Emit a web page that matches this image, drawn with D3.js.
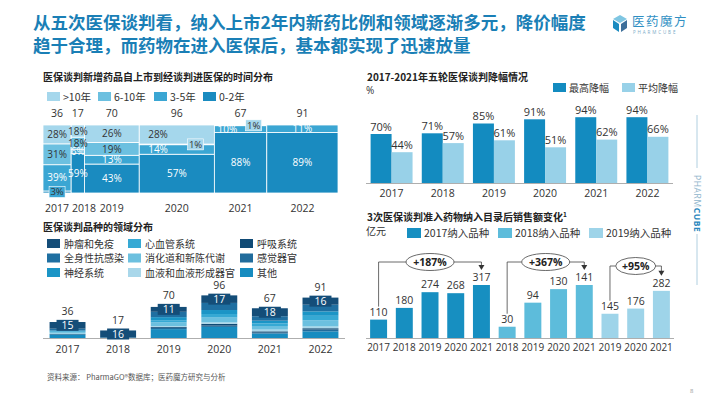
<!DOCTYPE html>
<html>
<head>
<meta charset="utf-8">
<script src="https://cdn.jsdelivr.net/npm/d3@7"></script>
<style>
body{margin:0;background:#fff;}
svg{display:block;font-family:"Open Sans","Noto Sans CJK SC",sans-serif;}
</style>
</head>
<body>
<svg id="chart" width="710" height="399"></svg>
<script>
// ---- data ----
const mmYears = ['2017','2018','2019','2020','2021','2022'];
const mmCounts = [36,17,70,96,67,91];
const mmKeys = ['0-2年','3-5年','6-10年','>10年'];
const share02 = [3,59,43,57,88,89];
const share35 = [39,6,13,14,10,11];
const share610 = [31,18,19,1,1,0];
const share10p = [28,18,26,28,0,0];

const cutYears = ['2017','2018','2019','2020','2021','2022'];
const cutMax = [70,71,85,91,94,94];
const cutAvg = [44,57,61,51,62,66];
const cutSeries = ['最高降幅','平均降幅'];

const areaYears = ['2017','2018','2019','2020','2021','2022'];
const areaTotals = [36,17,70,96,67,91];
const areaNames = ['肿瘤和免疫','全身性抗感染','神经系统','心血管系统','消化道和新陈代谢','血液和血液形成器官','呼吸系统','感觉器官','其他'];
const areaTumor = [15,16,11,17,18,16];
const areaInfect = [4,0,12,16,10,15];
const areaNeuro = [2,0,7,9,6,10];
const areaCardio = [2,0,5,8,6,10];
const areaDigest = [3,0,8,11,8,14];
const areaBlood = [1,0,2,3,4,4];
const areaResp = [1,0,2,4,3,3];
const areaSense = [0,0,3,3,2,4];
const areaOther = [8,1,20,25,10,15];

const cohortNames = ['2017纳入品种','2018纳入品种','2019纳入品种'];
const sales2017Years = ['2017','2018','2019','2020','2021'];
const sales2017 = [110,180,274,268,317];
const sales2018Years = ['2018','2019','2020','2021'];
const sales2018 = [30,94,130,141];
const sales2019Years = ['2019','2020','2021'];
const sales2019 = [145,176,282];
const growthLabels = ['+187%','+367%','+95%'];

// ---- setup ----
const svg = d3.select('#chart');
const cjk = '"Noto Sans CJK SC",sans-serif';
const textDark = '#333';

// title
const titleColor = '#1a7fb6';
svg.append('text').attr('x',33).attr('y',29)
  .attr('font-family',cjk).attr('font-weight','bold').attr('font-size',17.5)
  .attr('fill',titleColor)
  .text('从五次医保谈判看，纳入上市2年内新药比例和领域逐渐多元，降价幅度');
svg.append('text').attr('x',33).attr('y',52)
  .attr('font-family',cjk).attr('font-weight','bold').attr('font-size',17.5)
  .attr('fill',titleColor)
  .text('趋于合理，而药物在进入医保后，基本都实现了迅速放量');

// logo
const logo = svg.append('g').attr('transform','translate(620,23)');
logo.append('polygon').attr('points','0,-8 7,-4 0,0 -7,-4').attr('fill','#7fc6e2');
logo.append('polygon').attr('points','-7,-3 -1,1 -1,9 -7,5').attr('fill','#1a8bc0');
logo.append('polygon').attr('points','7,-3 1,1 1,9 7,5').attr('fill','#3d6f9a');
svg.append('text').attr('x',632).attr('y',25.5).attr('font-family',cjk)
  .attr('font-size',12.5).attr('fill','#2f8fc3').attr('letter-spacing',1.5).text('医药魔方');
svg.append('text').attr('x',633).attr('y',34).attr('font-size',4.5)
  .attr('fill','#7aa9c6').attr('letter-spacing',1.9).text('PHARMCUBE');

// side brand
svg.append('line').attr('x1',697).attr('x2',697).attr('y1',115).attr('y2',168)
  .attr('stroke','#9cc3d8').attr('stroke-width',0.8);
svg.append('line').attr('x1',697).attr('x2',697).attr('y1',234).attr('y2',285)
  .attr('stroke','#9cc3d8').attr('stroke-width',0.8);
const side = svg.append('text').attr('transform','translate(694,175) rotate(90)')
  .attr('font-size',8.5).attr('letter-spacing',0.6);
side.append('tspan').attr('fill','#8fb5cc').text('PHARM');
side.append('tspan').attr('fill','#2b87bd').attr('font-weight','bold').text('CUBE');

// footer
svg.append('text').attr('x',47).attr('y',380).attr('font-family',cjk)
  .attr('font-size',7.5).attr('fill','#555').text('资料来源： PharmaGO®数据库；医药魔方研究与分析');
svg.append('text').attr('x',690).attr('y',393).attr('font-size',6).attr('fill','#999').text('8');

function subTitle(x,y,t){
  return svg.append('text').attr('x',x).attr('y',y).attr('font-family',cjk)
    .attr('font-weight','bold').attr('font-size',10).attr('fill','#222').text(t);
}

// ================= chart 1: marimekko =================
subTitle(43,81,'医保谈判新增药品自上市到经谈判进医保的时间分布');
const mmColors = ['#1a8bc0','#3ba6d3','#6cc0e0','#a5d7ec'];
const mmVals = [share02, share35, share610, share10p];
const legend1 = [{k:3,x:47},{k:2,x:98},{k:1,x:154},{k:0,x:203}];
legend1.forEach(d=>{
  svg.append('rect').attr('x',d.x).attr('y',92).attr('width',13).attr('height',9).attr('fill',mmColors[d.k]);
  svg.append('text').attr('x',d.x+16).attr('y',100.5).attr('font-family',cjk)
    .attr('font-size',10.5).attr('fill',textDark).text(mmKeys[d.k]);
});

const mmX = d3.scaleLinear().domain([0,d3.sum(mmCounts)]).range([43,338]);
const mmY = d3.scaleLinear().domain([0,1]).range([193,125]);
let run = 0;
const mmCols = mmYears.map((yr,i)=>{
  const x0 = run; run += mmCounts[i];
  const tot = d3.sum(mmVals, v=>v[i]);
  let acc = 0;
  const segs = mmVals.map((v,k)=>{
    const s = {k, v:v[i], y0:acc/tot, y1:(acc+v[i])/tot}; acc += v[i]; return s;
  });
  return {yr, i, x0, x1:run, segs};
});
const g1 = svg.append('g');
const colG = g1.selectAll('g.col').data(mmCols).enter().append('g').attr('class','col');
colG.selectAll('rect').data(d=>d.segs.filter(s=>s.v>0).map(s=>Object.assign({col:d},s)))
  .enter().append('rect')
  .attr('x',s=>mmX(s.col.x0)).attr('width',s=>mmX(s.col.x1)-mmX(s.col.x0))
  .attr('y',s=>mmY(s.y1)).attr('height',s=>mmY(s.y0)-mmY(s.y1))
  .attr('fill',s=>mmColors[s.k]).attr('stroke','#fff').attr('stroke-width',0.8);
// labels
let prevYearX = -100;
mmCols.forEach(c=>{
  const cx = (mmX(c.x0)+mmX(c.x1))/2, w = mmX(c.x1)-mmX(c.x0);
  // wide columns with a tiny segment: tiny box goes right, upper labels go left
  const shift = (w>40 && c.segs.some(s=>s.v>0 && s.v<=3)) ? w*0.25 : 0;
  c.segs.forEach(s=>{
    if(s.v<=0) return;
    const cy = (mmY(s.y0)+mmY(s.y1))/2;
    const t = s.v+'%';
    if(s.v<=3){
      const lx = cx + shift;
      g1.append('rect').attr('x',lx-8).attr('y',cy-5.5).attr('width',16).attr('height',11)
        .attr('fill',mmColors[Math.min(s.k+1,3)]).attr('stroke','#fff').attr('stroke-width',0.6);
      g1.append('text').attr('x',lx).attr('y',cy+3.5).attr('text-anchor','middle')
        .attr('font-size',9.5).attr('fill',textDark).text(t);
    } else {
      const lx = s.k>0 ? cx - shift : cx;
      g1.append('text').attr('x',lx).attr('y',cy+3.6).attr('text-anchor','middle')
        .attr('font-size',10).attr('fill',s.k<=1 ? '#fff' : textDark).text(t);
    }
  });
  g1.append('text').attr('x',cx).attr('y',117).attr('text-anchor','middle')
    .attr('font-size',10.5).attr('fill',textDark).text(mmCounts[c.i]);
  // keep narrow-column year labels from colliding
  const yx = Math.max(cx, prevYearX + 27);
  prevYearX = yx;
  g1.append('text').attr('x',yx).attr('y',212).attr('text-anchor','middle')
    .attr('font-size',10.5).attr('fill',textDark).text(c.yr);
});

// ================= chart 2: area stacked bars =================
subTitle(43,231,'医保谈判品种的领域分布');
const areaColors = ['#144d78','#1f6fa1','#1b95c6','#36a9d4','#6cc0df','#a9d7ea','#0f4a75','#216c9c','#178cc0'];
const areaVals = [areaTumor,areaInfect,areaNeuro,areaCardio,areaDigest,areaBlood,areaResp,areaSense,areaOther];
const legCols = [47,128,240];
areaNames.forEach((n,i)=>{
  const x = legCols[Math.floor(i/3)], y = 239 + (i%3)*14.5;
  svg.append('rect').attr('x',x).attr('y',y).attr('width',13).attr('height',9).attr('fill',areaColors[i]);
  svg.append('text').attr('x',x+17).attr('y',y+8.5).attr('font-family',cjk)
    .attr('font-size',10).attr('fill',textDark).text(n);
});
const ax = d3.scaleBand().domain(areaYears).range([43,345]).paddingInner(0.29).paddingOuter(0.13);
const ay = d3.scaleLinear().domain([0,100]).range([338,293.6]);
const stackData = areaYears.map((yr,i)=>{
  const o = {yr}; areaNames.forEach((n,k)=>{ o[n] = areaVals[k][i]; }); return o;
});
const stackKeys = areaNames.slice().reverse();
const series = d3.stack().keys(stackKeys)(stackData);
const g2 = svg.append('g');
g2.selectAll('g.s').data(series).enter().append('g')
  .attr('fill',d=>areaColors[areaNames.indexOf(d.key)])
  .selectAll('rect').data(d=>d).enter().append('rect')
  .attr('x',d=>ax(d.data.yr)).attr('width',ax.bandwidth())
  .attr('y',d=>ay(d[1])).attr('height',d=>ay(d[0])-ay(d[1]));
g2.append('line').attr('x1',43).attr('x2',345).attr('y1',338.5).attr('y2',338.5)
  .attr('stroke','#999').attr('stroke-width',0.8);
areaYears.forEach((yr,i)=>{
  const cx = ax(yr)+ax.bandwidth()/2;
  const top = ay(areaTotals[i]);
  const tCy = (top + ay(areaTotals[i]-areaTumor[i]))/2;
  g2.append('rect').attr('x',cx-11).attr('y',tCy-5.5).attr('width',22).attr('height',11).attr('fill','#144d78');
  g2.append('text').attr('x',cx).attr('y',tCy+4).attr('text-anchor','middle')
    .attr('font-size',10.5).attr('fill','#fff').text(areaTumor[i]);
  g2.append('text').attr('x',cx).attr('y',Math.min(top, tCy-5.5)-4.5).attr('text-anchor','middle')
    .attr('font-size',10.5).attr('fill',textDark).text(areaTotals[i]);
  g2.append('text').attr('x',cx).attr('y',353).attr('text-anchor','middle')
    .attr('font-size',10.5).attr('fill',textDark).text(yr);
});

// ================= chart 3: price cut =================
subTitle(367,81,'2017-2021年五轮医保谈判降幅情况');
svg.append('text').attr('x',366).attr('y',94).attr('font-size',10).attr('fill',textDark).text('%');
const cutColors = ['#138bc0','#98d1e8'];
[{x:553},{x:622}].forEach((d,i)=>{
  svg.append('rect').attr('x',d.x).attr('y',83).attr('width',13).attr('height',9).attr('fill',cutColors[i]);
  svg.append('text').attr('x',d.x+16).attr('y',91.5).attr('font-family',cjk)
    .attr('font-size',10).attr('fill',textDark).text(cutSeries[i]);
});
const cx3 = d3.scaleBand().domain(cutYears).range([366,673]).paddingInner(0.18).paddingOuter(0.09);
const cs3 = d3.scaleBand().domain(cutSeries).range([0,cx3.bandwidth()]);
const cy3 = d3.scaleLinear().domain([0,100]).range([183,113]);
const g3 = svg.append('g');
const cutRows = cutYears.map((yr,i)=>({yr, vals:[cutMax[i],cutAvg[i]]}));
const grp = g3.selectAll('g.y').data(cutRows).enter().append('g')
  .attr('transform',d=>`translate(${cx3(d.yr)},0)`);
grp.selectAll('rect').data(d=>d.vals.map((v,k)=>({v,k}))).enter().append('rect')
  .attr('x',d=>cs3(cutSeries[d.k])).attr('width',cs3.bandwidth())
  .attr('y',d=>cy3(d.v)).attr('height',d=>cy3(0)-cy3(d.v)).attr('fill',d=>cutColors[d.k]);
grp.selectAll('text.v').data(d=>d.vals.map((v,k)=>({v,k}))).enter().append('text')
  .attr('x',d=>cs3(cutSeries[d.k])+cs3.bandwidth()/2).attr('y',d=>cy3(d.v)-3.5)
  .attr('text-anchor','middle').attr('font-size',11).attr('fill',textDark).text(d=>d.v+'%');
grp.append('text').attr('x',cx3.bandwidth()/2).attr('y',197).attr('text-anchor','middle')
  .attr('font-size',10.5).attr('fill',textDark).text(d=>d.yr);
g3.append('line').attr('x1',366).attr('x2',673).attr('y1',183.5).attr('y2',183.5)
  .attr('stroke','#999').attr('stroke-width',0.8);

// ================= chart 4: sales =================
const st = subTitle(367,221,'3次医保谈判准入药物纳入目录后销售额变化');
st.append('tspan').attr('font-size',6.5).attr('dy',-4).text('1');
svg.append('text').attr('x',366).attr('y',235).attr('font-family',cjk)
  .attr('font-size',10).attr('fill',textDark).text('亿元');
const salesColors = ['#178fc1','#5dbcdb','#9ed4e9'];
[407,498,589].forEach((x,i)=>{
  svg.append('rect').attr('x',x).attr('y',228).attr('width',14).attr('height',10).attr('fill',salesColors[i]);
  svg.append('text').attr('x',x+17).attr('y',237).attr('font-family',cjk)
    .attr('font-size',10.5).attr('fill',textDark).text(cohortNames[i]);
});
const cohorts = [
  {years:sales2017Years, vals:sales2017},
  {years:sales2018Years, vals:sales2018},
  {years:sales2019Years, vals:sales2019}
];
const bars4 = [];
cohorts.forEach((c,ci)=>c.years.forEach((yr,j)=>bars4.push({id:ci+'-'+yr, yr, v:c.vals[j], ci})));
const bx4 = d3.scaleBand().domain(bars4.map(d=>d.id)).range([366,674]).paddingInner(0.34).paddingOuter(0.16);
const scaleTop = [317,141,317];
const by4 = scaleTop.map(m=>d3.scaleLinear().domain([0,m]).range([338,285]));
const g4 = svg.append('g');
g4.selectAll('rect').data(bars4).enter().append('rect')
  .attr('x',d=>bx4(d.id)).attr('width',bx4.bandwidth())
  .attr('y',d=>by4[d.ci](d.v)).attr('height',d=>338-by4[d.ci](d.v))
  .attr('fill',d=>salesColors[d.ci]);
g4.selectAll('text.v').data(bars4).enter().append('text')
  .attr('x',d=>bx4(d.id)+bx4.bandwidth()/2).attr('y',d=>by4[d.ci](d.v)-4)
  .attr('text-anchor','middle').attr('font-size',10.5).attr('fill',textDark).text(d=>d.v);
g4.selectAll('text.yr').data(bars4).enter().append('text')
  .attr('x',d=>bx4(d.id)+bx4.bandwidth()/2).attr('y',351)
  .attr('text-anchor','middle').attr('font-size',10).attr('fill',textDark).text(d=>d.yr);
g4.append('line').attr('x1',366).attr('x2',674).attr('y1',338.5).attr('y2',338.5)
  .attr('stroke','#999').attr('stroke-width',0.8);
// growth annotations
const ellY = [262,262,266];
cohorts.forEach((c,ci)=>{
  const first = bars4.find(d=>d.ci===ci && d.yr===c.years[0]);
  const last = bars4.find(d=>d.ci===ci && d.yr===c.years[c.years.length-1]);
  const lx = bx4(first.id)+bx4.bandwidth()/2, rx = bx4(last.id)+bx4.bandwidth()/2;
  const ly = by4[ci](first.v)-13, ry = by4[ci](last.v)-15;
  const mx = (lx+rx)/2, ey = ellY[ci], erx = ci===2 ? 20 : 24;
  g4.append('path').attr('d',`M${lx},${ly}V${ey}H${mx-erx}M${mx+erx},${ey}H${rx}V${ry-4}`)
    .attr('fill','none').attr('stroke','#444').attr('stroke-width',0.8);
  g4.append('path').attr('d',`M${rx-3},${ry-5}L${rx+3},${ry-5}L${rx},${ry}Z`).attr('fill','#333');
  g4.append('ellipse').attr('cx',mx).attr('cy',ey).attr('rx',erx).attr('ry',8.5)
    .attr('fill','#fff').attr('stroke','#444').attr('stroke-width',0.8);
  g4.append('text').attr('x',mx).attr('y',ey+4).attr('text-anchor','middle')
    .attr('font-size',10.5).attr('font-weight','bold').attr('fill','#222').text(growthLabels[ci]);
});
</script>
</body>
</html>
